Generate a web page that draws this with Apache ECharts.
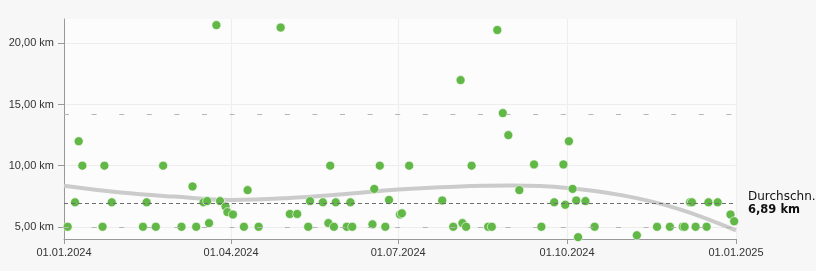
<!DOCTYPE html>
<html><head><meta charset="utf-8">
<script src="https://cdn.jsdelivr.net/npm/echarts@6/dist/echarts.min.js"></script>
<style>html,body{margin:0;padding:0;background:#f7f7f7}#c{width:816px;height:271px}</style>
</head><body><div id="c"></div>
<script>
const runDates = ['2024-01-03','2024-01-07','2024-01-09','2024-01-11','2024-01-22','2024-01-23','2024-01-27','2024-02-13','2024-02-15','2024-02-20','2024-02-24','2024-03-05','2024-03-11','2024-03-13','2024-03-17','2024-03-19','2024-03-20','2024-03-24','2024-03-26','2024-03-29','2024-03-30','2024-04-02','2024-04-08','2024-04-10','2024-04-16','2024-04-28','2024-05-03','2024-05-07','2024-05-13','2024-05-14','2024-05-21','2024-05-24','2024-05-25','2024-05-27','2024-05-28','2024-06-03','2024-06-05','2024-06-06','2024-06-17','2024-06-18','2024-06-21','2024-06-24','2024-06-26','2024-07-02','2024-07-03','2024-07-07','2024-07-25','2024-07-31','2024-08-04','2024-08-05','2024-08-07','2024-08-10','2024-08-19','2024-08-21','2024-08-24','2024-08-27','2024-08-30','2024-09-05','2024-09-13','2024-09-17','2024-09-24','2024-09-29','2024-09-30','2024-10-02','2024-10-04','2024-10-06','2024-10-07','2024-10-11','2024-10-16','2024-11-08','2024-11-19','2024-11-26','2024-12-03','2024-12-04','2024-12-07','2024-12-08','2024-12-10','2024-12-16','2024-12-17','2024-12-22','2024-12-29','2024-12-31'];
const runKm = [5.0,7.0,12.0,10.0,5.0,10.0,7.0,5.0,7.0,5.0,10.0,5.0,8.3,5.0,7.0,7.1,5.3,21.5,7.1,6.65,6.2,6.0,5.0,8.0,5.0,21.3,6.05,6.05,5.0,7.1,7.0,5.3,10.0,5.0,7.0,5.0,7.0,5.0,5.2,8.1,10.0,5.0,7.2,6.0,6.1,10.0,7.15,5.0,17.0,5.3,5.0,10.0,5.0,5.0,21.1,14.3,12.5,8.0,10.1,5.0,7.0,10.1,6.8,12.0,8.1,7.15,4.15,7.1,5.0,4.3,5.0,5.0,5.0,5.0,7.0,7.0,5.0,5.0,7.0,7.0,6.0,5.45];
const trendDates = ['2024-01-01','2024-02-01','2024-03-01','2024-04-01','2024-05-01','2024-06-01','2024-07-01','2024-08-01','2024-09-01','2024-10-01','2024-11-01','2024-12-01','2025-01-01'];
const trendKm = [8.35,7.8,7.47,7.2,7.34,7.66,8.05,8.28,8.37,8.18,7.55,6.45,4.7];
const averageKm = 6.89;
const averageLabel = 'Durchschn.';
const refLinesKm = [5.0, 14.2];
const yTickValues = [5, 10, 15, 20];
const xTickDates = ['2024-01-01','2024-04-01','2024-07-01','2024-10-01','2025-01-01'];

function ts(s){const p=s.split('-').map(Number);return new Date(p[0],p[1]-1,p[2]).getTime();}
function fmtKm(v){return v.toFixed(2).replace('.',',')+' km';}
function pad(n){return (n<10?'0':'')+n;}
function fmtDate(v){const d=new Date(v);return pad(d.getDate())+'.'+pad(d.getMonth()+1)+'.'+d.getFullYear();}

const chart = echarts.init(document.getElementById('c'), null, {renderer:'canvas'});
const font = "'Liberation Sans', Arial, sans-serif";
const dj = "'DejaVu Sans', Verdana, sans-serif";
chart.setOption({
  animation:false,
  backgroundColor:'#f7f7f7',
  grid:{left:64,right:80,top:19,bottom:32,show:true,backgroundColor:'#fcfcfc',borderWidth:0},
  xAxis:{
    type:'value', min:ts(xTickDates[0]), max:ts(xTickDates[xTickDates.length-1]),
    axisLine:{show:true,lineStyle:{color:'#999',width:1}},
    axisTick:{show:true,length:5,customValues:xTickDates.map(ts),lineStyle:{color:'#999'}},
    axisLabel:{customValues:xTickDates.map(ts),formatter:fmtDate,color:'#333',fontSize:11,fontFamily:font,margin:8,showMinLabel:true,showMaxLabel:true},
    splitLine:{show:true,lineStyle:{color:'#eeeeee',width:1.2}}
  },
  yAxis:{
    type:'value', min:4, max:22,
    axisLine:{show:true,lineStyle:{color:'#999',width:1}},
    axisTick:{show:true,length:6,customValues:yTickValues,lineStyle:{color:'#999'}},
    axisLabel:{customValues:yTickValues,formatter:fmtKm,color:'#333',fontSize:11,fontFamily:font,margin:10},
    splitLine:{show:true,lineStyle:{color:'#ededed',width:1}}
  },
  series:[
    {
      type:'line', smooth:0.4, showSymbol:false, silent:true, z:1,
      data:trendDates.map((d,i)=>[ts(d),trendKm[i]]),
      lineStyle:{color:'#cbcbcb',width:4},
      markLine:{
        silent:true, symbol:'none', animation:false,
        data:[
          {yAxis:refLinesKm[0],lineStyle:{color:'#b5b5b5',type:[5,22.6],width:1},label:{show:false}},
          {yAxis:refLinesKm[1],lineStyle:{color:'#b5b5b5',type:[5,22.6],width:1},label:{show:false}},
          {yAxis:averageKm,lineStyle:{color:'#6f6f6f',type:[4,3],width:1.2},
           label:{show:true,position:'end',distance:12,formatter:averageLabel+'\n{b|'+fmtKm(averageKm)+'}',
             color:'#111',fontSize:12,fontFamily:dj,lineHeight:13,
             rich:{b:{fontWeight:'bold',fontSize:11.5,fontFamily:dj,color:'#111',lineHeight:13}}}}
        ]
      }
    },
    {
      type:'scatter', z:3, symbol:'circle', symbolSize:9,
      data:runDates.map((d,i)=>[ts(d),runKm[i]]),
      itemStyle:{color:'#62b846',borderColor:'#ffffff',borderWidth:0.6,opacity:1}
    }
  ]
});
</script>
</body></html>
